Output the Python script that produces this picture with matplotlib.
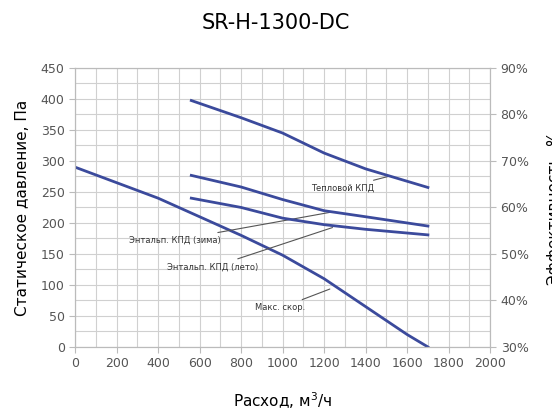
import matplotlib
matplotlib.use("Agg")
import matplotlib.pyplot as plt
from matplotlib.ticker import MultipleLocator

flow_fan = [0, 200, 400, 600, 800, 1000, 1200, 1400, 1600, 1700]
pressure = [290, 265, 240, 210, 180, 148, 110, 65, 20, 0]
flow_eff = [560, 800, 1000, 1200, 1400, 1700]
eff_heat = [83, 79.3, 76, 71.7, 68.3, 64.3]
eff_winter = [66.9, 64.4, 61.7, 59.3, 58, 56]
eff_summer = [62, 60, 57.7, 56.3, 55.3, 54.1]

def p2e(p):
    return 30 + p / 7.5
def e2p(e):
    return (e - 30) * 7.5

fig = plt.figure(figsize=(5.52, 4.17), dpi=100)
ax = fig.add_axes([0.136, 0.168, 0.752, 0.669])
c = "#3b4a9c"
ax.plot(flow_fan, pressure, color=c, lw=2)
ax2 = ax.twinx()
for s in (eff_heat, eff_winter, eff_summer):
    ax2.plot(flow_eff, s, color=c, lw=2)
ax.set_xlim(0, 2000); ax.set_ylim(0, 450)
ax2.set_ylim(30, 90)
ax.xaxis.set_major_locator(MultipleLocator(200)); ax.xaxis.set_minor_locator(MultipleLocator(100))
ax.yaxis.set_major_locator(MultipleLocator(50)); ax.yaxis.set_minor_locator(MultipleLocator(25))
ax.grid(True, which="both", color="#d0d0d0", lw=0.8)
ax2.yaxis.set_major_locator(MultipleLocator(10))
ax2.set_yticklabels([f"{int(v)}%" for v in ax2.get_yticks()])
for a in (ax, ax2):
    for sp in a.spines.values():
        sp.set_color("#bbbbbb")
    a.tick_params(colors="#bbbbbb", labelcolor="#555555", labelsize=9, length=4)
ax.tick_params(which="minor", length=0)
lab = dict(fontsize=6, color="#333333")
ann = dict(arrowprops=dict(arrowstyle="-", color="#555555", lw=0.8), **lab)
ax.annotate("Тепловой КПД", xy=(1520, e2p(66.8)), xytext=(1290, 256), ha="center", va="center", **ann)
ax.annotate("Энтальп. КПД (зима)", xy=(1243, 218), xytext=(480, 172), ha="center", va="center", **ann)
ax.annotate("Энтальп. КПД (лето)", xy=(1253, 194), xytext=(665, 129), ha="center", va="center", **ann)
ax.annotate("Макс. скор.", xy=(1240, 95), xytext=(990, 63), ha="center", va="center", **ann)
ax.set_xlabel("Расход, м$^3$/ч", fontsize=11, labelpad=14)
ax.set_ylabel("Статическое давление, Па", fontsize=11, labelpad=8)
fig.text(0.5, 0.945, "SR-H-1300-DC", ha="center", va="center", fontsize=15)
fig.text(1.005, 0.5, "Эффективность, %", rotation=90, ha="center", va="center", fontsize=11)
fig.savefig("out.png", dpi=100)
